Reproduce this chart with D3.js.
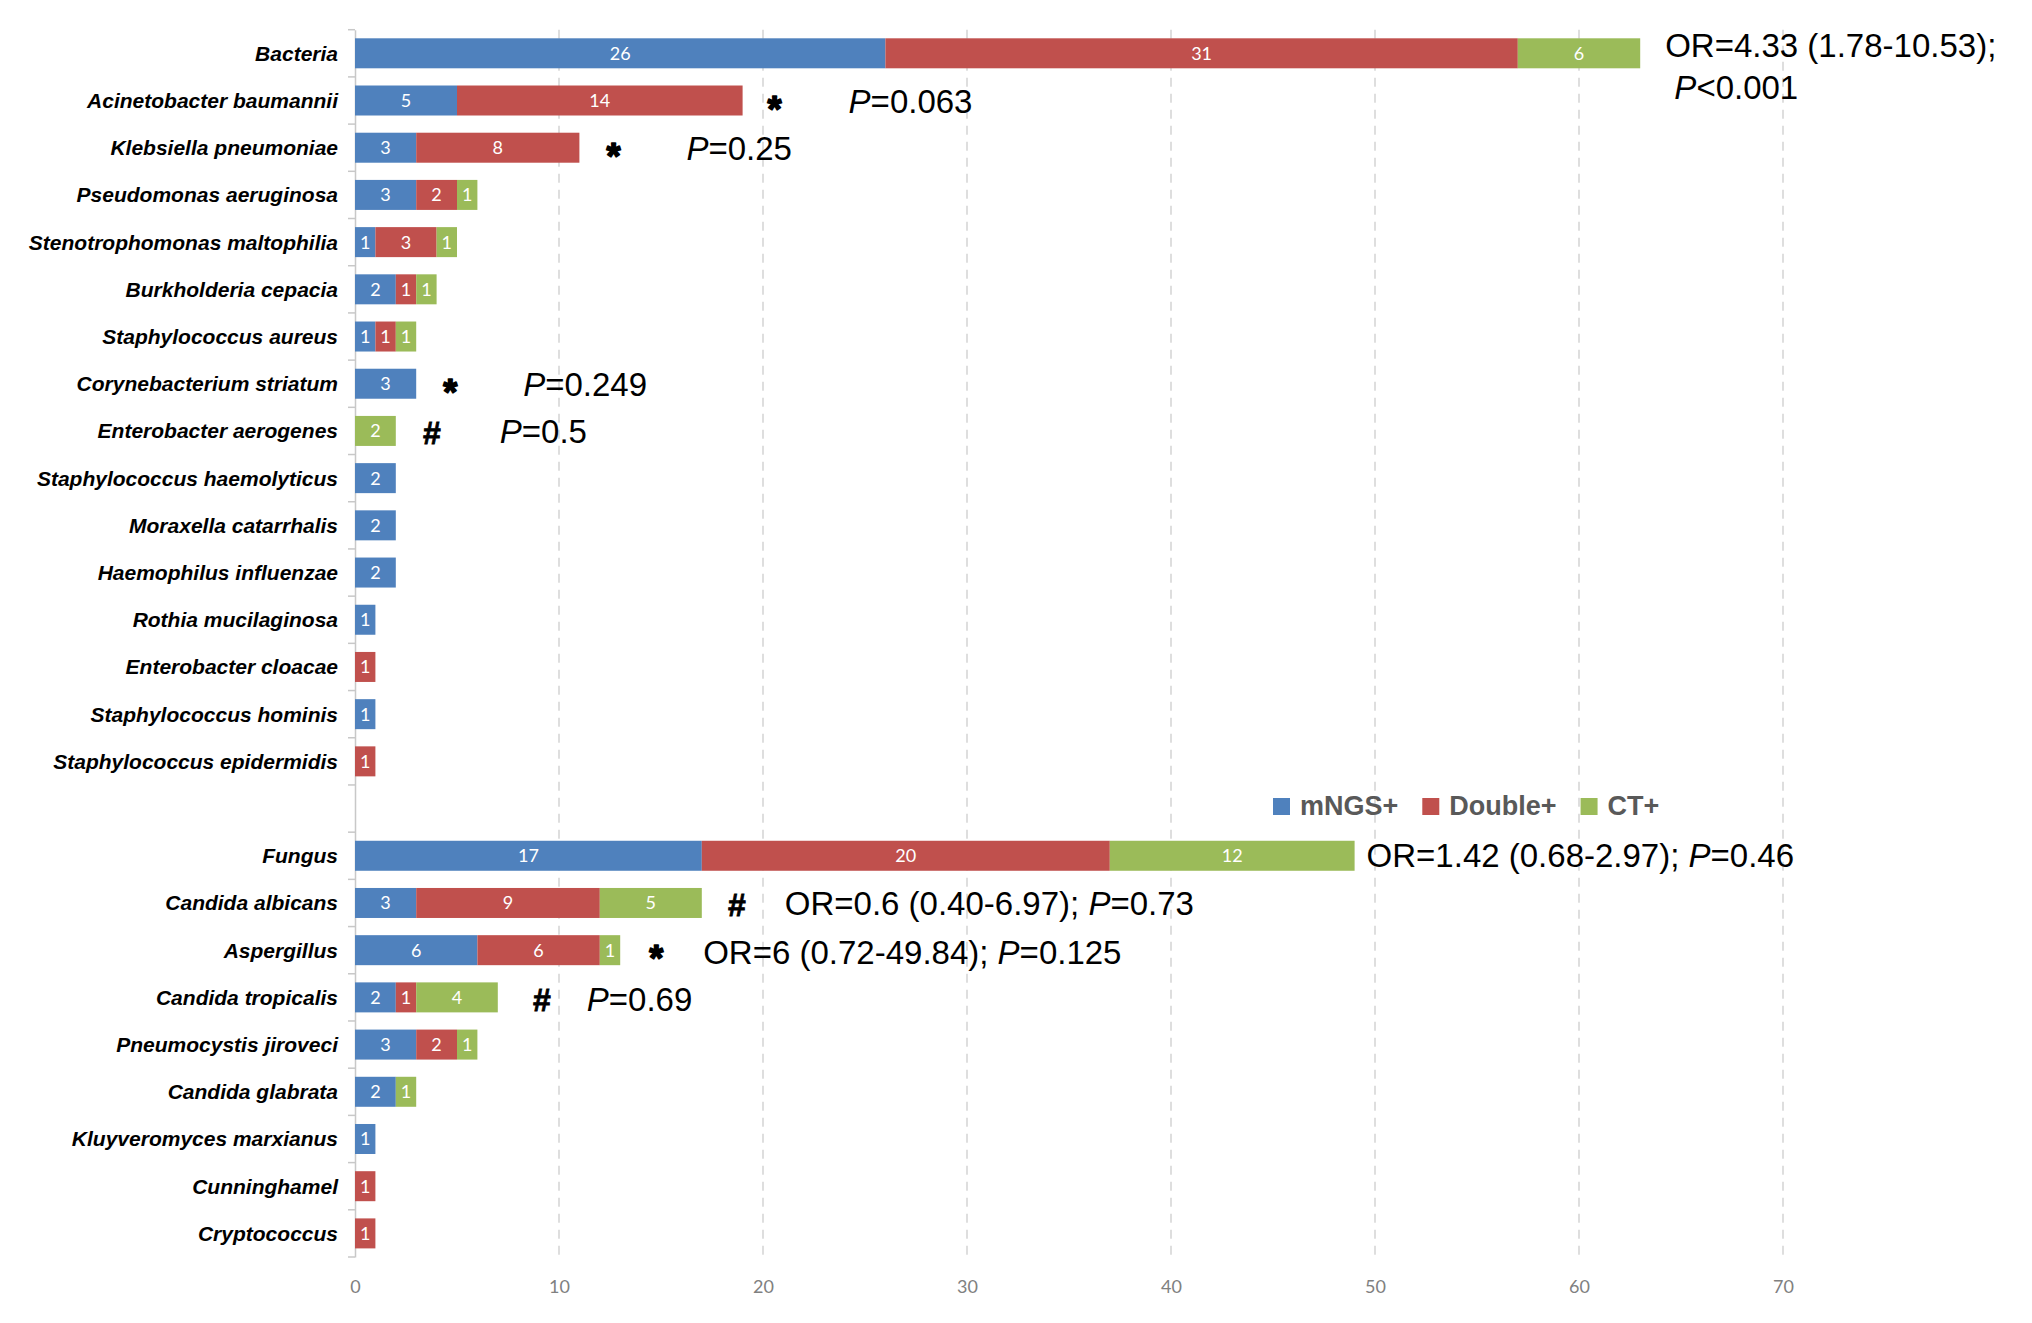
<!DOCTYPE html>
<html>
<head>
<meta charset="utf-8">
<script src="https://cdn.jsdelivr.net/npm/d3@7/dist/d3.min.js"></script>
<style>
  html, body { margin: 0; padding: 0; background: #fff; }
  svg { display: block; }
</style>
</head>
<body>
<svg id="chart" width="2032" height="1323"></svg>
<script>
// ---------------- DATA ----------------
const categories = [
  "Bacteria", "Acinetobacter baumannii", "Klebsiella pneumoniae", "Pseudomonas aeruginosa",
  "Stenotrophomonas maltophilia", "Burkholderia cepacia", "Staphylococcus aureus",
  "Corynebacterium striatum", "Enterobacter aerogenes", "Staphylococcus haemolyticus",
  "Moraxella catarrhalis", "Haemophilus influenzae", "Rothia mucilaginosa",
  "Enterobacter cloacae", "Staphylococcus hominis", "Staphylococcus epidermidis",
  " ",
  "Fungus", "Candida albicans", "Aspergillus", "Candida tropicalis", "Pneumocystis jiroveci",
  "Candida glabrata", "Kluyveromyces marxianus", "Cunninghamel", "Cryptococcus"
];
const mNGSValues   = [26, 5, 3, 3, 1, 2, 1, 3, 0, 2, 2, 2, 1, 0, 1, 0, 0, 17, 3, 6, 2, 3, 2, 1, 0, 0];
const doubleValues = [31, 14, 8, 2, 3, 1, 1, 0, 0, 0, 0, 0, 0, 1, 0, 1, 0, 20, 9, 6, 1, 2, 0, 0, 1, 1];
const ctValues     = [6, 0, 0, 1, 1, 1, 1, 0, 2, 0, 0, 0, 0, 0, 0, 0, 0, 12, 5, 1, 4, 1, 1, 0, 0, 0];
const seriesNames  = ["mNGS+", "Double+", "CT+"];
const xTickValues  = [0, 10, 20, 30, 40, 50, 60, 70];

const noteCategories = ["Bacteria", "Acinetobacter baumannii", "Klebsiella pneumoniae",
  "Corynebacterium striatum", "Enterobacter aerogenes", "Fungus", "Candida albicans",
  "Aspergillus", "Candida tropicalis"];
const noteMarks = ["", "*", "*", "*", "#", "", "#", "*", "#"];
const noteTexts = [
  ["OR=4.33 (1.78-10.53);", " P<0.001"],
  ["P=0.063"], ["P=0.25"], ["P=0.249"], ["P=0.5"],
  ["OR=1.42 (0.68-2.97); P=0.46"],
  ["OR=0.6 (0.40-6.97); P=0.73"],
  ["OR=6 (0.72-49.84); P=0.125"],
  ["P=0.69"]
];

// ---------------- LAYOUT / STYLE ----------------
const colors = { "mNGS+": "#4F81BD", "Double+": "#C0504D", "CT+": "#9BBB59" };
// offsets (px) from bar end for mark centre and text start, text baseline shift
const noteLayout = [
  { mark: 0,  text: 25,  dy: 3.4, lineGap: 42.6 },
  { mark: 32, text: 106, dy: 12.5 },
  { mark: 34, text: 107, dy: 12.5 },
  { mark: 34, text: 107, dy: 12.5 },
  { mark: 36, text: 104, dy: 12.5 },
  { mark: 0,  text: 12,  dy: 11.5 },
  { mark: 35, text: 83,  dy: 12.5 },
  { mark: 36, text: 83,  dy: 14 },
  { mark: 44, text: 89,  dy: 14 }
];

const svg = d3.select("#chart");
const plotLeft = 355, plotRight = 1783, plotTop = 29.7, plotBottom = 1257;

const x = d3.scaleLinear().domain([0, 70]).range([plotLeft, plotRight]);
const y = d3.scaleBand().domain(categories).range([plotTop, plotBottom]).padding(0);
const barH = 30;
const barY = c => y(c) + (y.bandwidth() - barH) / 2;
const rowC = c => y(c) + y.bandwidth() / 2;

// table for stack
const table = categories.map((c, i) => ({
  category: c, "mNGS+": mNGSValues[i], "Double+": doubleValues[i], "CT+": ctValues[i]
}));
const stacked = d3.stack().keys(seriesNames)(table);

// gridlines
svg.append("g")
  .selectAll("line")
  .data(xTickValues.filter(v => v > 0))
  .join("line")
  .attr("x1", d => x(d)).attr("x2", d => x(d))
  .attr("y1", plotTop).attr("y2", plotBottom)
  .attr("stroke", "#d4d4d4").attr("stroke-width", 1.5)
  .attr("stroke-dasharray", "9,7");

// x axis tick labels (no axis line)
const xAxis = d3.axisBottom(x).tickValues(xTickValues).tickSize(0).tickPadding(0);
const gx = svg.append("g").attr("transform", `translate(0,${plotBottom})`).call(xAxis);
gx.select(".domain").remove();
gx.selectAll("text")
  .attr("y", 36).attr("dy", 0)
  .attr("fill", "#808080")
  .style("font-family", "Lato, 'Open Sans', sans-serif")
  .style("font-size", "18px");

// y axis
const yAxis = d3.axisLeft(y).tickSize(0).tickFormat(() => "");
const gy = svg.append("g").attr("transform", `translate(${plotLeft},0)`).call(yAxis);
gy.select(".domain").attr("stroke", "#c8c8c8").attr("stroke-width", 1.5);
// boundary ticks between categories
const boundaries = categories.map(c => y(c)).concat([y(categories[categories.length - 1]) + y.bandwidth()]);
gy.selectAll(".bt")
  .data(boundaries)
  .join("line")
  .attr("class", "bt")
  .attr("x1", -7).attr("x2", 0)
  .attr("y1", d => d).attr("y2", d => d)
  .attr("stroke", "#c8c8c8").attr("stroke-width", 1.5);

// category labels
svg.append("g")
  .selectAll("text")
  .data(categories.filter(c => c.trim() !== ""))
  .join("text")
  .attr("x", plotLeft - 17)
  .attr("y", c => rowC(c) + 7.5)
  .attr("text-anchor", "end")
  .attr("fill", "#000")
  .style("font-family", "'Liberation Sans', Arial, sans-serif")
  .style("font-weight", "bold")
  .style("font-style", "italic")
  .style("font-size", "21px")
  .text(c => c);

// bars
const layers = svg.append("g")
  .selectAll("g")
  .data(stacked)
  .join("g")
  .attr("fill", d => colors[d.key]);

layers.selectAll("rect")
  .data(d => d.filter(p => p[1] - p[0] > 0).map(p => ({ p, key: d.key })))
  .join("rect")
  .attr("x", d => x(d.p[0]))
  .attr("width", d => x(d.p[1]) - x(d.p[0]))
  .attr("y", d => barY(d.p.data.category))
  .attr("height", barH);

layers.selectAll("text")
  .data(d => d.filter(p => p[1] - p[0] > 0).map(p => ({ p, key: d.key })))
  .join("text")
  .attr("x", d => (x(d.p[0]) + x(d.p[1])) / 2)
  .attr("y", d => rowC(d.p.data.category) + 6.5)
  .attr("text-anchor", "middle")
  .attr("fill", "#fff")
  .style("font-family", "Lato, 'Open Sans', sans-serif")
  .style("font-size", "18px")
  .text(d => d.p[1] - d.p[0]);

// annotations
const totals = categories.map((c, i) => mNGSValues[i] + doubleValues[i] + ctValues[i]);
const noteG = svg.append("g");
function richText(sel, str) {
  const parts = str.split(/(P)(?=[=<])/);
  parts.forEach(part => {
    if (part === "") return;
    const t = sel.append("tspan").text(part);
    if (part === "P") t.style("font-style", "italic");
  });
}
noteCategories.forEach((c, i) => {
  const idx = categories.indexOf(c);
  const end = x(totals[idx]);
  const L = noteLayout[i];
  const cy = rowC(c);
  if (noteMarks[i] === "*") {
    noteG.append("text")
      .attr("x", end + L.mark).attr("y", cy + 1 + 0.56 * 36)
      .attr("text-anchor", "middle")
      .attr("stroke", "#000").attr("stroke-width", 1.6).attr("stroke-linejoin", "round")
      .style("font-family", "'Liberation Sans', Arial, sans-serif")
      .style("font-weight", "bold").style("font-size", "36px")
      .text("*");
  } else if (noteMarks[i] === "#") {
    noteG.append("text")
      .attr("x", end + L.mark).attr("y", cy + 2 + 0.35 * 32)
      .attr("text-anchor", "middle")
      .attr("stroke", "#000").attr("stroke-width", 0.8)
      .style("font-family", "'Liberation Sans', Arial, sans-serif")
      .style("font-weight", "bold").style("font-size", "32px")
      .text("#");
  }
  noteTexts[i].forEach((line, li) => {
    const t = noteG.append("text")
      .attr("x", end + L.text)
      .attr("y", cy + L.dy + li * (L.lineGap || 0))
      .attr("fill", "#000")
      .attr("xml:space", "preserve")
      .style("white-space", "pre")
      .style("font-family", "'Liberation Sans', Arial, sans-serif")
      .style("font-size", "33px");
    richText(t, line);
  });
});

// legend
const legend = svg.append("g").attr("transform", "translate(1273,0)");
let lx = 0;
seriesNames.forEach(name => {
  legend.append("rect")
    .attr("x", lx).attr("y", 798).attr("width", 17).attr("height", 17)
    .attr("fill", colors[name]);
  const t = legend.append("text")
    .attr("x", lx + 27).attr("y", 815)
    .attr("fill", "#595959")
    .style("font-family", "'Liberation Sans', Arial, sans-serif")
    .style("font-weight", "bold")
    .style("font-size", "27px")
    .text(name);
  lx += 27 + t.node().getComputedTextLength() + 24;
});
</script>
</body>
</html>
